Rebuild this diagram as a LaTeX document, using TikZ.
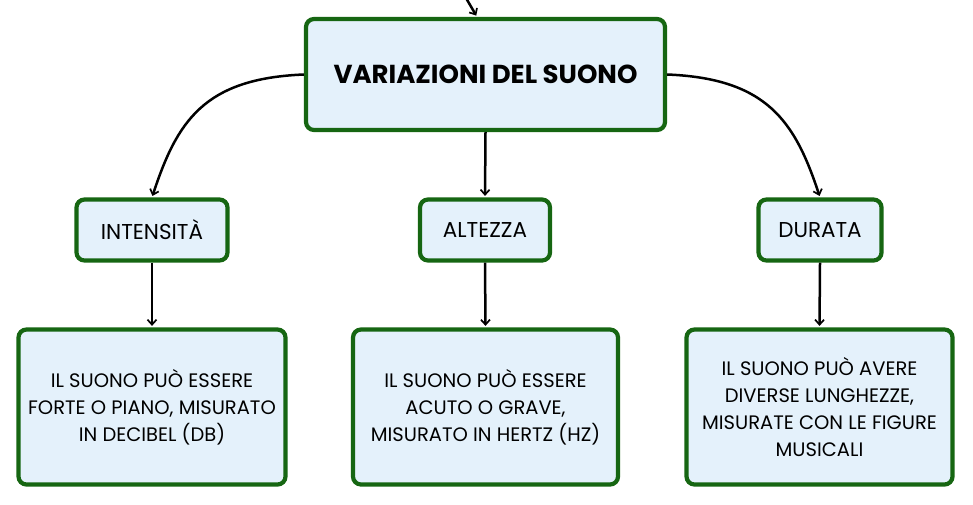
\documentclass[tikz,border=0pt]{standalone}
\usepackage{fontspec}
\setmainfont{Poppins}
\usetikzlibrary{arrows.meta}
\definecolor{bordergreen}{RGB}{22,102,18}
\definecolor{boxfill}{RGB}{228,241,251}
\tikzset{
  box/.style={draw=bordergreen, line width=4.2pt, fill=boxfill, rounded corners=8pt, align=center, inner sep=0pt},
  conn/.style={draw=black, line width=2.5pt, shorten >=1.5pt, -{Straight Barb[length=5pt,width=9pt,line width=1.7pt]}},
  maintxt/.style={font=\fontsize{26}{30}\selectfont\bfseries},
  smalltxt/.style={font=\fontsize{21.5}{26}\selectfont},
  desctxt/.style={font=\fontsize{19.5}{27}\selectfont},
}
\begin{document}
\begin{tikzpicture}[x=1pt,y=-1pt]
\useasboundingbox (0,0) rectangle (973,504);
\node[box, maintxt, minimum width=359pt, minimum height=111pt] (main) at (485.5,74.5) {VARIAZIONI DEL SUONO};
\node[box, smalltxt, minimum width=151pt, minimum height=61pt] (int) at (152,230) {INTENSITÀ};
\node[box, smalltxt, minimum width=130pt, minimum height=61pt] (alt) at (485,230) {ALTEZZA};
\node[box, smalltxt, minimum width=123pt, minimum height=61pt] (dur) at (820,230) {DURATA};
\node[box, desctxt, minimum width=267pt, minimum height=155pt] (intd) at (152,407) {IL SUONO PUÒ ESSERE\\FORTE O PIANO, MISURATO\\IN DECIBEL (DB)};
\node[box, desctxt, minimum width=265pt, minimum height=155pt] (altd) at (485.5,407) {IL SUONO PUÒ ESSERE\\ACUTO O GRAVE,\\MISURATO IN HERTZ (HZ)};
\node[box, desctxt, minimum width=266pt, minimum height=155pt] (durd) at (819.5,407) {IL SUONO PUÒ AVERE\\DIVERSE LUNGHEZZE,\\MISURATE CON LE FIGURE\\MUSICALI};
\coordinate (top) at (466,-2);
\draw[conn] (top) -- (main.north -| 477,0);
\draw[conn] (main.west) .. controls +(-100,4) and +(25,-76) .. (int.north);
\draw[conn] (main.east) .. controls +(100,4) and +(-25,-76) .. (dur.north);
\draw[conn] (main.south) -- (alt.north);
\draw[conn] (int.south) -- (intd.north);
\draw[conn] (alt.south) -- (altd.north);
\draw[conn] (dur.south) -- (durd.north);
\end{tikzpicture}
\end{document}
